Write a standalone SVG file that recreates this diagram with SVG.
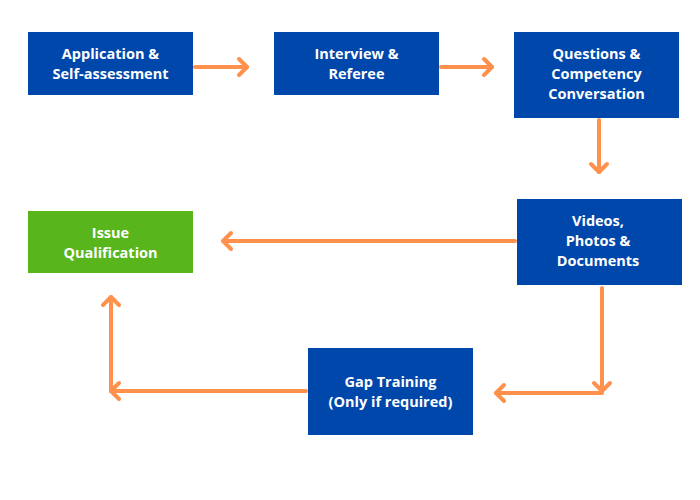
<svg xmlns="http://www.w3.org/2000/svg" width="700" height="500" viewBox="0 0 700 500">
<style>
.box{fill:#0047AB}
.green{fill:#58B51C}
.t{font-family:"Open Sans","Liberation Sans",sans-serif;font-weight:bold;font-size:14.5px;fill:#fff;text-anchor:middle}
.c{fill:none;stroke:#FF914D;stroke-width:4;stroke-linecap:round;stroke-linejoin:round}
</style>
<defs>
<marker id="ah" markerUnits="userSpaceOnUse" viewBox="-12 -12 16 24" refX="0" refY="0" markerWidth="16" markerHeight="24" orient="auto" overflow="visible">
<path d="M-8,-8 L0,0 L-8,8" fill="none" stroke="#FF914D" stroke-width="4" stroke-linecap="round" stroke-linejoin="round"/>
</marker>
</defs>
<rect width="700" height="500" fill="#fff"/>
<g id="connectors">
<line class="c" x1="195" y1="67" x2="247" y2="67" marker-end="url(#ah)"/>
<line class="c" x1="441" y1="67" x2="492" y2="67" marker-end="url(#ah)"/>
<line class="c" x1="599" y1="120" x2="599" y2="172" marker-end="url(#ah)"/>
<line class="c" x1="515" y1="241" x2="223" y2="241" marker-end="url(#ah)"/>
<line class="c" x1="602" y1="288" x2="602" y2="391" marker-end="url(#ah)"/>
<line class="c" x1="602" y1="393" x2="496" y2="393" marker-end="url(#ah)"/>
<line class="c" x1="306" y1="391" x2="111" y2="391" marker-end="url(#ah)"/>
<line class="c" x1="111" y1="391" x2="111" y2="297" marker-end="url(#ah)"/>
</g>
<g id="n1"><rect class="box" x="28" y="32" width="165" height="63"/><text class="t" x="110.5" y="59">Application &amp;</text><text class="t" x="110.5" y="79">Self-assessment</text></g>
<g id="n2"><rect class="box" x="274" y="32" width="165" height="63"/><text class="t" x="356.5" y="59">Interview &amp;</text><text class="t" x="356.5" y="79">Referee</text></g>
<g id="n3"><rect class="box" x="514" y="32" width="165" height="86"/><text class="t" x="596.5" y="59">Questions &amp;</text><text class="t" x="596.5" y="79">Competency</text><text class="t" x="596.5" y="99">Conversation</text></g>
<g id="n4"><rect class="box" x="517" y="199" width="165" height="86"/><text class="t" x="598" y="226">Videos,</text><text class="t" x="598" y="246">Photos &amp;</text><text class="t" x="598" y="266">Documents</text></g>
<g id="n5"><rect class="green" x="28" y="211" width="165" height="62"/><text class="t" x="110.5" y="238">Issue</text><text class="t" x="110.5" y="258">Qualification</text></g>
<g id="n6"><rect class="box" x="308" y="348" width="165" height="87"/><text class="t" x="390.5" y="387">Gap Training</text><text class="t" x="390.5" y="407">(Only if required)</text></g>
</svg>
